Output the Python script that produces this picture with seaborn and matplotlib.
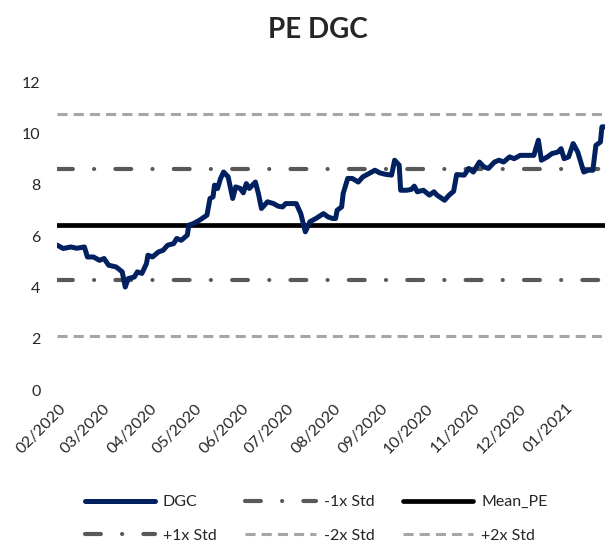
import pandas as pd
import numpy as np
import matplotlib
matplotlib.use('Agg')
import matplotlib.pyplot as plt
import matplotlib.dates as mdates
from matplotlib.lines import Line2D
import seaborn as sns

# PE series
dates = ['2020-01-31', '2020-02-04', '2020-02-09', '2020-02-13', '2020-02-18', '2020-02-20',
         '2020-02-24', '2020-02-28', '2020-03-02', '2020-03-05', '2020-03-10', '2020-03-14',
         '2020-03-16', '2020-03-18', '2020-03-22', '2020-03-24', '2020-03-27', '2020-03-30',
         '2020-03-31', '2020-04-03', '2020-04-07', '2020-04-10', '2020-04-13', '2020-04-17',
         '2020-04-19', '2020-04-22', '2020-04-26', '2020-04-27', '2020-04-30', '2020-05-04',
         '2020-05-09', '2020-05-11', '2020-05-13', '2020-05-14', '2020-05-16', '2020-05-18',
         '2020-05-20', '2020-05-23', '2020-05-26', '2020-05-28', '2020-05-31', '2020-06-02',
         '2020-06-04', '2020-06-06', '2020-06-10', '2020-06-12', '2020-06-14', '2020-06-18',
         '2020-06-22', '2020-06-25', '2020-06-28', '2020-06-30', '2020-07-07', '2020-07-10',
         '2020-07-13', '2020-07-16', '2020-07-20', '2020-07-25', '2020-07-28', '2020-07-31',
         '2020-08-02', '2020-08-03', '2020-08-06', '2020-08-07', '2020-08-10', '2020-08-13',
         '2020-08-17', '2020-08-20', '2020-08-24', '2020-08-28', '2020-08-31', '2020-09-04',
         '2020-09-08', '2020-09-10', '2020-09-13', '2020-09-14', '2020-09-18', '2020-09-21',
         '2020-09-23', '2020-09-25', '2020-09-29', '2020-10-03', '2020-10-06', '2020-10-08',
         '2020-10-13', '2020-10-16', '2020-10-19', '2020-10-21', '2020-10-26', '2020-10-29',
         '2020-11-01', '2020-11-05', '2020-11-08', '2020-11-11', '2020-11-15', '2020-11-18',
         '2020-11-21', '2020-11-25', '2020-11-28', '2020-12-02', '2020-12-08', '2020-12-11',
         '2020-12-14', '2020-12-16', '2020-12-20', '2020-12-23', '2020-12-27', '2020-12-29',
         '2020-12-31', '2021-01-03', '2021-01-06', '2021-01-09', '2021-01-11', '2021-01-13',
         '2021-01-16', '2021-01-19', '2021-01-21', '2021-01-24', '2021-01-25', '2021-01-27']
pe = [5.65, 5.52, 5.58, 5.53, 5.58, 5.19,
      5.19, 5.06, 5.13, 4.87, 4.80, 4.61,
      4.02, 4.35, 4.41, 4.61, 4.55, 4.93,
      5.26, 5.19, 5.39, 5.45, 5.65, 5.71,
      5.91, 5.84, 6.04, 6.43, 6.49, 6.62,
      6.82, 7.47, 7.53, 7.99, 7.86, 8.25,
      8.50, 8.31, 7.47, 7.92, 7.86, 7.69,
      8.05, 7.86, 8.11, 7.66, 7.08, 7.34,
      7.27, 7.17, 7.14, 7.27, 7.27, 6.88,
      6.17, 6.56, 6.69, 6.88, 6.75, 6.69,
      6.69, 7.01, 7.14, 7.66, 8.25, 8.25,
      8.11, 8.31, 8.44, 8.57, 8.47, 8.41,
      8.38, 8.96, 8.77, 7.79, 7.79, 7.82,
      7.95, 7.73, 7.79, 7.60, 7.73, 7.60,
      7.40, 7.60, 7.75, 8.40, 8.38, 8.64,
      8.50, 8.89, 8.70, 8.64, 8.89, 8.96,
      8.89, 9.09, 9.02, 9.15, 9.15, 9.15,
      9.74, 8.96, 9.09, 9.22, 9.28, 9.41,
      9.02, 9.09, 9.61, 9.28, 8.89, 8.50,
      8.57, 8.57, 9.54, 9.67, 10.26, 10.26]

mean_pe = 6.43
minus1_std = 4.28
plus1_std = 8.61
minus2_std = 2.10
plus2_std = 10.75

df = pd.DataFrame({'Date': pd.to_datetime(dates), 'PE': pe})

sns.set_style('white')
plt.rcParams['font.family'] = ['Lato', 'DejaVu Sans']

navy = '#002060'
dark_gray = '#595959'
light_gray = '#A6A6A6'

fig = plt.figure(figsize=(6.08, 5.48), dpi=100)
ax = fig.add_axes([0.094, 0.288, 0.901, 0.562])

sns.lineplot(data=df, x='Date', y='PE', ax=ax, color=navy, linewidth=3.6, zorder=5)

ax.axhline(mean_pe, color='black', linewidth=3.4, zorder=4)
dd1 = dict(color=dark_gray, linewidth=3.0, dashes=(3.8, 5.1, 0.01, 5.1), dash_capstyle='round', zorder=3)
ax.axhline(minus1_std, **dd1)
ax.axhline(plus1_std, **dd1)
dd2 = dict(color=light_gray, linewidth=2.2, dashes=(3.3, 2.0), zorder=2)
ax.axhline(minus2_std, **dd2)
ax.axhline(plus2_std, **dd2)

ax.set_xlim(df['Date'].min(), df['Date'].max())
ax.set_ylim(0, 12)
ax.set_yticks(range(0, 13, 2))
ax.xaxis.set_major_locator(mdates.MonthLocator())
ax.xaxis.set_major_formatter(mdates.DateFormatter('%m/%Y'))
ax.tick_params(axis='y', length=0, pad=12, labelsize=11.5)
ax.tick_params(axis='x', length=0, pad=8, labelsize=11.5)
plt.setp(ax.get_xticklabels(), rotation=45, ha='right', rotation_mode='anchor')
ax.set_xlabel('')
ax.set_ylabel('')
sns.despine(ax=ax, left=True, bottom=True)
ax.grid(False)

fig.suptitle('PE DGC', x=0.522, y=0.945, va='center', fontsize=20, fontweight='bold')

h_dgc = Line2D([], [], color=navy, linewidth=3.6, solid_capstyle='round')
h_m1 = Line2D([], [], **dd1)
h_mean = Line2D([], [], color='black', linewidth=3.4, solid_capstyle='round')
h_p1 = Line2D([], [], **dd1)
h_m2 = Line2D([], [], **dd2)
h_p2 = Line2D([], [], **dd2)
handles = [h_dgc, h_p1, h_m1, h_m2, h_mean, h_p2]
labels = ['DGC', '+1x Std', '-1x Std', '-2x Std', 'Mean_PE', '+2x Std']
fig.legend(handles, labels, loc='center', bbox_to_anchor=(0.52, 0.053), ncol=3,
           frameon=False, fontsize=11.5, handlelength=4.4, handletextpad=0.5,
           columnspacing=1.8, labelspacing=1.2)

fig.savefig('out.png', dpi=100)
